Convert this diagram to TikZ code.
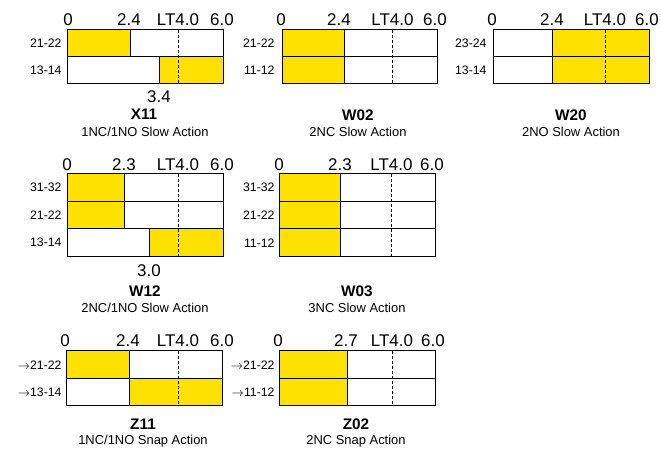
\documentclass[tikz,border=0pt]{standalone}
\usepackage{fontspec}
\setmainfont{Liberation Sans}
\definecolor{swyellow}{RGB}{255,225,0}
\tikzset{every picture/.style={line width=0.75pt}}
\tikzset{
  yfill/.style={fill=swyellow},
  ltline/.style={line width=0.6pt, dash pattern=on 2.25pt off 1.5pt},
  tick/.style={font=\fontsize{12.7}{14}\selectfont, anchor=base, inner sep=0pt},
  pin/.style={font=\fontsize{9.2}{11}\selectfont, anchor=east, inner sep=0pt},
  code/.style={font=\bfseries\fontsize{11.5}{13}\selectfont, anchor=base, inner sep=0pt},
  kind/.style={font=\fontsize{9.7}{11}\selectfont, anchor=base, inner sep=0pt}
}
\begin{document}
\begin{tikzpicture}[x=0.75pt,y=0.75pt,yscale=-1,xscale=1]
\useasboundingbox (0,0) rectangle (661,452);

\fill [yfill] (67,30) rectangle (130,57);
\fill [yfill] (159,57) rectangle (223,84);
\draw (67,30) rectangle (223,84);
\draw (67,57) -- (223,57);
\draw (130,30) -- (130,57);
\draw (159,57) -- (159,84);
\draw [ltline] (178,30) -- (178,84);
\node [tick] (x11a) at (68,26) {0};
\node [tick] (x11b) at (129,26) {2.4};
\node [tick] (x11c) at (178,26) {LT4.0};
\node [tick] (x11d) at (222,26) {6.0};
\node [tick] (x11e) at (159,103) {3.4};
\node [pin] (x11r1) at (62,43.5) {21-22};
\node [pin] (x11r2) at (62,70.5) {13-14};
\node [code] (x11) at (144,120) {X11};
\node [kind] (x11t) at (145,136.5) {1NC/1NO Slow Action};

\fill [yfill] (282,30) rectangle (344,84);
\draw (282,30) rectangle (437,84);
\draw (282,57) -- (437,57);
\draw (344,30) -- (344,84);
\draw [ltline] (392,30) -- (392,84);
\node [tick] (w02a) at (281,26) {0};
\node [tick] (w02b) at (339,26) {2.4};
\node [tick] (w02c) at (392.5,26) {LT4.0};
\node [tick] (w02d) at (435,26) {6.0};
\node [pin] (w02r1) at (275,43.5) {21-22};
\node [pin] (w02r2) at (275,70.5) {11-12};
\node [code] (w02) at (358,120.5) {W02};
\node [kind] (w02t) at (358,136.5) {2NC Slow Action};

\fill [yfill] (552,30) rectangle (649,84);
\draw (493,30) rectangle (649,84);
\draw (493,57) -- (649,57);
\draw (552,30) -- (552,84);
\draw [ltline] (605,30) -- (605,84);
\node [tick] (w20a) at (492,26) {0};
\node [tick] (w20b) at (552,26) {2.4};
\node [tick] (w20c) at (605,26) {LT4.0};
\node [tick] (w20d) at (647,26) {6.0};
\node [pin] (w20r1) at (487,43.5) {23-24};
\node [pin] (w20r2) at (487,70.5) {13-14};
\node [code] (w20) at (571,120.5) {W20};
\node [kind] (w20t) at (571,136.5) {2NO Slow Action};

\fill [yfill] (67,174) rectangle (124,229);
\fill [yfill] (149,229) rectangle (223,256.5);
\draw (67,174) rectangle (223,256.5);
\draw (67,201.5) -- (223,201.5);
\draw (67,229) -- (223,229);
\draw (124,174) -- (124,229);
\draw (149,229) -- (149,256.5);
\draw [ltline] (178,174) -- (178,256.5);
\node [tick] (w12a) at (67,170.5) {0};
\node [tick] (w12b) at (124,170.5) {2.3};
\node [tick] (w12c) at (178,170.5) {LT4.0};
\node [tick] (w12d) at (222,170.5) {6.0};
\node [tick] (w12e) at (149,277) {3.0};
\node [pin] (w12r1) at (62,187.75) {31-32};
\node [pin] (w12r2) at (62,215.25) {21-22};
\node [pin] (w12r3) at (62,242.75) {13-14};
\node [code] (w12) at (145,296.5) {W12};
\node [kind] (w12t) at (145,312.5) {2NC/1NO Slow Action};

\fill [yfill] (279,174) rectangle (340,256.5);
\draw (279,174) rectangle (435,256.5);
\draw (279,201.5) -- (435,201.5);
\draw (279,229) -- (435,229);
\draw (340,174) -- (340,256.5);
\draw [ltline] (391.5,174) -- (391.5,256.5);
\node [tick] (w03a) at (279,170.5) {0};
\node [tick] (w03b) at (340,170.5) {2.3};
\node [tick] (w03c) at (391.5,170.5) {LT4.0};
\node [tick] (w03d) at (432,170.5) {6.0};
\node [pin] (w03r1) at (275,187.75) {31-32};
\node [pin] (w03r2) at (275,215.25) {21-22};
\node [pin] (w03r3) at (275,242.75) {11-12};
\node [code] (w03) at (357,296.5) {W03};
\node [kind] (w03t) at (357,312.5) {3NC Slow Action};

\fill [yfill] (66,351) rectangle (129,378.5);
\fill [yfill] (129,378.5) rectangle (222,406);
\draw (66,351) rectangle (222,406);
\draw (66,378.5) -- (222,378.5);
\draw (129,351) -- (129,406);
\draw [ltline] (178,351) -- (178,406);
\node [tick] (z11a) at (65,347) {0};
\node [tick] (z11b) at (128,347) {2.4};
\node [tick] (z11c) at (178,347) {LT4.0};
\node [tick] (z11d) at (222,347) {6.0};
\node [pin] (z11r1) at (62,364.75) {$\rightarrow$21-22};
\node [pin] (z11r2) at (62,392.25) {$\rightarrow$13-14};
\node [code] (z11) at (143,429.5) {Z11};
\node [kind] (z11t) at (143,444.5) {1NC/1NO Snap Action};

\fill [yfill] (279,351) rectangle (347,406);
\draw (279,351) rectangle (435,406);
\draw (279,378.5) -- (435,378.5);
\draw (347,351) -- (347,406);
\draw [ltline] (392,351) -- (392,406);
\node [tick] (z02a) at (278,347) {0};
\node [tick] (z02b) at (346,347) {2.7};
\node [tick] (z02c) at (392,347) {LT4.0};
\node [tick] (z02d) at (433,347) {6.0};
\node [pin] (z02r1) at (275,364.75) {$\rightarrow$21-22};
\node [pin] (z02r2) at (275,392.25) {$\rightarrow$11-12};
\node [code] (z02) at (356,429.5) {Z02};
\node [kind] (z02t) at (356,444.5) {2NC Snap Action};
\end{tikzpicture}
\end{document}
